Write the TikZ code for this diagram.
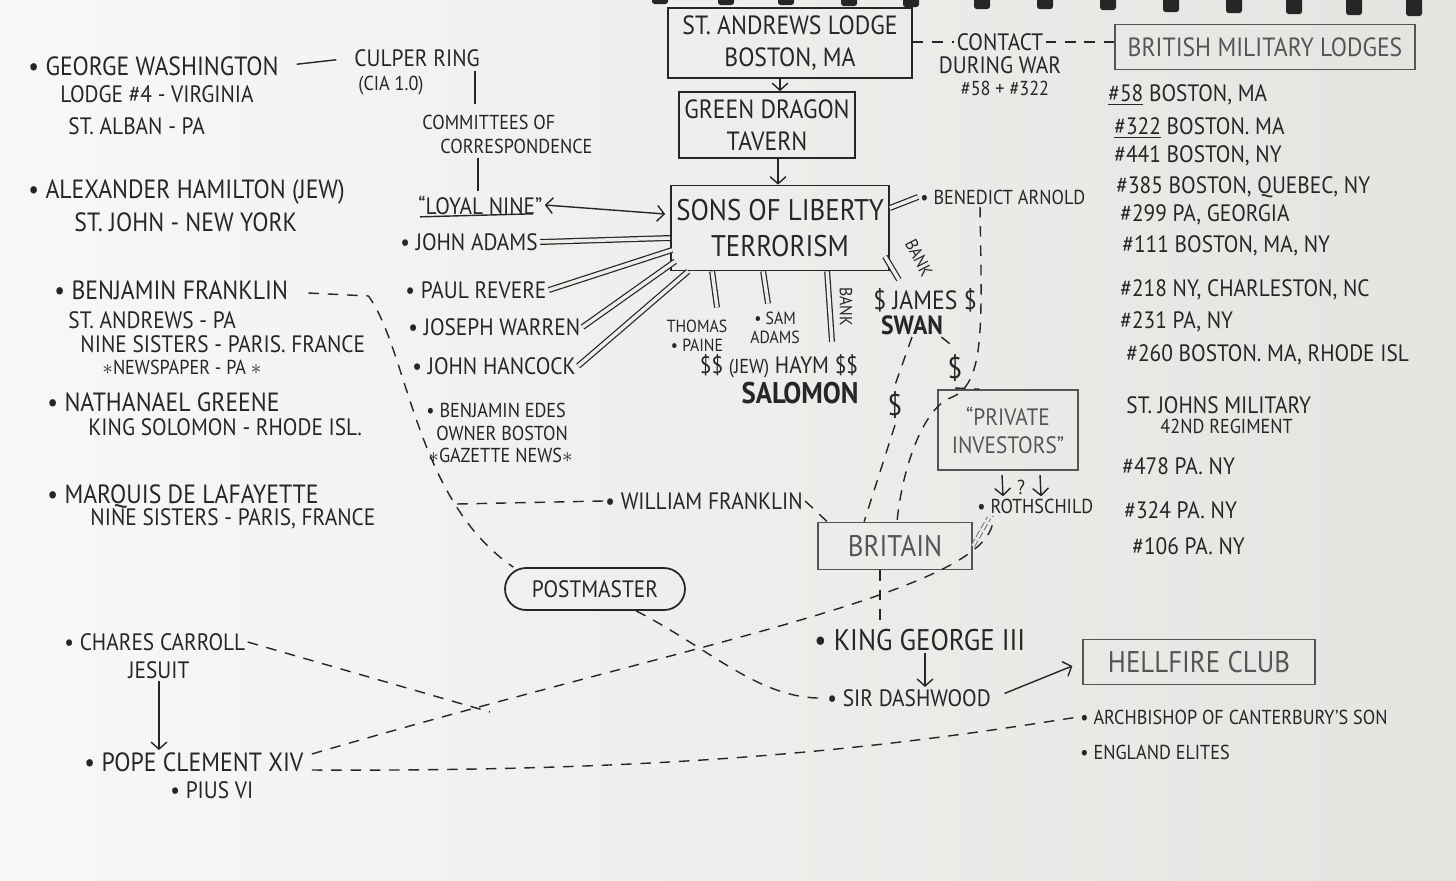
\documentclass[tikz,border=0pt]{standalone}
\usepackage{fontspec}
\setmainfont{PT Sans}[FakeStretch=0.9]
\usetikzlibrary{arrows.meta,positioning,calc}

\definecolor{paper}{HTML}{EEEDEA}
\definecolor{ink}{HTML}{262626}
\definecolor{pencil}{HTML}{555555}

\newcommand{\fhuge}{\fontsize{17}{20}\selectfont}
\newcommand{\flarge}{\fontsize{15}{18}\selectfont}
\newcommand{\fmain}{\fontsize{13.5}{16}\selectfont}
\newcommand{\fsmall}{\fontsize{11.5}{13}\selectfont}
\newcommand{\ftiny}{\fontsize{10}{11}\selectfont}

\begin{document}
\begin{tikzpicture}[
  x=0.02cm, y=-0.02cm, color=ink, line width=0.8pt, font=\fmain,
  >={Straight Barb[length=4pt,width=9pt]},
  txt/.style={anchor=west, inner sep=1pt},
  boxn/.style={draw, line width=1pt, align=center, inner sep=3pt},
  pbox/.style={boxn, draw=pencil, text=pencil},
  dsh/.style={dash pattern=on 6pt off 5pt},
  spoke/.style={double=paper, double distance=2pt, line width=0.7pt}
]
% paper and rings
\useasboundingbox (0,0) rectangle (1456,880);
\shade[left color=paper!40!white, right color=paper!96!black] (0,0) rectangle (1456,880);
\foreach \x/\h in {660/4,726/5,786/5,849/6,911/7,982/9,1045/9,1108/10,1171/12,1234/13,1294/14,1354/15,1414/16}
  \fill[black!85, rounded corners=1.5pt] (\x-8,-3) rectangle (\x+8,\h);

% left column
\node[txt, font=\flarge] (gw1) at (26,66) {• GEORGE WASHINGTON};
\node[txt] (gw2) at (58,94) {LODGE \#4 - VIRGINIA};
\node[txt] (gw3) at (66,126) {ST. ALBAN - PA};
\node[txt, font=\flarge] (ah1) at (26,192) {• ALEXANDER HAMILTON (JEW)};
\node[txt, font=\flarge] (ah2) at (72,222) {ST. JOHN - NEW YORK};
\node[txt, font=\flarge] (bf1) at (52,290) {• BENJAMIN FRANKLIN};
\node[txt] (bf2) at (66,320) {ST. ANDREWS - PA};
\node[txt] (bf3) at (78,344) {NINE SISTERS - PARIS. FRANCE};
\node[txt, font=\fsmall] (bf4) at (100,367) {$\ast$NEWSPAPER - PA $\ast$};
\node[txt, font=\flarge] (ng1) at (45,402) {• NATHANAEL GREENE};
\node[txt] (ng2) at (86,427) {KING SOLOMON - RHODE ISL.};
\node[txt, font=\flarge] (ml1) at (45,497) {• MARQUIS DE LAFAYETTE};
\node[txt] (ml2) at (88,519) {NINE SISTERS - PARIS, FRANCE};
\node[txt] (cc1) at (62,642) {• CHARES CARROLL};
\node[txt] (cc2) at (126,670) {JESUIT};
\node[txt, font=\flarge] (pc1) at (82,762) {• POPE CLEMENT XIV};
\node[txt] (pc2) at (168,790) {• PIUS VI};

% culper ring and committees
\node[txt] (culper) at (352,58) {CULPER RING};
\node[txt, font=\fsmall] (cia) at (356,86) {(CIA 1.0)};
\node[txt, font=\fsmall] (cm1) at (420,122) {COMMITTEES OF};
\node[txt, font=\fsmall] (cm2) at (438,146) {CORRESPONDENCE};
\node[txt] (loyal) at (416,205) {``LOYAL NINE''};

% members
\node[txt] (ja) at (398,242) {• JOHN ADAMS};
\node[txt] (pr) at (403,290) {• PAUL REVERE};
\node[txt] (jw) at (406,327) {• JOSEPH WARREN};
\node[txt] (jh) at (410,366) {• JOHN HANCOCK};
\node[txt, font=\fsmall] (be1) at (424,410) {• BENJAMIN EDES};
\node[txt, font=\fsmall] (be2) at (434,433) {OWNER BOSTON};
\node[txt, font=\fsmall] (be3) at (426,455) {$\ast$GAZETTE NEWS$\ast$};

% boxes in the middle
\node[boxn, minimum width=4.88cm, minimum height=1.4cm, font=\flarge] (sa) at (790,43) {ST. ANDREWS LODGE\\BOSTON, MA};
\node[boxn, minimum width=3.5cm, minimum height=1.32cm, font=\flarge] (gd) at (767,125) {GREEN DRAGON\\TAVERN};
\node[boxn, minimum width=4.2cm, minimum height=1.7cm, font=\fhuge] (sl) at (780,228) {SONS OF LIBERTY\\TERRORISM};

\node[align=center, font=\ftiny, inner sep=1pt] (tp) at (697,336) {THOMAS\\• PAINE};
\node[align=center, font=\ftiny, inner sep=1pt] (sam) at (775,328) {• SAM\\ADAMS};
\node[inner sep=1pt] (hs) at (779,366) {\$\$ {\fsmall(JEW)} HAYM \$\$};
\node[inner sep=1pt, font=\fhuge\bfseries] (sal) at (800,393) {SALOMON};
\node[inner sep=1pt, font=\flarge] (js1) at (925,300) {\$ JAMES \$};
\node[inner sep=1pt, font=\flarge\bfseries] (js2) at (912,325) {SWAN};
\node[txt, font=\fsmall] (ba) at (918,197) {• BENEDICT ARNOLD};
\node[font=\fhuge] (d1) at (895,405) {\$};
\node[font=\fhuge] (d2) at (955,368) {\$};

% contact and british lodges
\node[inner sep=1pt] (ct1) at (1000,42) {CONTACT};
\node[inner sep=1pt] (ct2) at (1000,65) {DURING WAR};
\node[inner sep=1pt, font=\fsmall] (ct3) at (1005,88) {\#58 + \#322};
\node[pbox, minimum width=6cm, minimum height=0.9cm, font=\flarge] (bml) at (1265,47) {BRITISH MILITARY LODGES};

\node[txt] (l58) at (1106,95) {\underline{\#58} BOSTON, MA};
\node[txt] (l322) at (1112,128) {\underline{\#322} BOSTON. MA};
\node[txt] (l441) at (1112,156) {\#441 BOSTON, NY};
\node[txt] (l385) at (1114,187) {\#385 BOSTON, QUEBEC, NY};
\node[txt] (l299) at (1118,215) {\#299 PA, GEORGIA};
\node[txt] (l111) at (1120,246) {\#111 BOSTON, MA, NY};
\node[txt] (l218) at (1118,290) {\#218 NY, CHARLESTON, NC};
\node[txt] (l231) at (1118,322) {\#231 PA, NY};
\node[txt] (l260) at (1124,355) {\#260 BOSTON. MA, RHODE ISL};
\node[txt] (sj1) at (1124,405) {ST. JOHNS MILITARY};
\node[txt, font=\fsmall] (sj2) at (1158,426) {42ND REGIMENT};
\node[txt] (l478) at (1120,466) {\#478 PA. NY};
\node[txt] (l324) at (1122,510) {\#324 PA. NY};
\node[txt] (l106) at (1130,546) {\#106 PA. NY};

% lower middle
\node[pbox, minimum width=2.8cm, minimum height=1.6cm] (pi) at (1008,430) {``PRIVATE\\INVESTORS''};
\node[txt, font=\fsmall] (ro) at (975,506) {• ROTHSCHILD};
\node[font=\fsmall, inner sep=1pt] (q) at (1021,487) {?};
\node[pbox, minimum width=3.08cm, minimum height=0.94cm, font=\fhuge] (br) at (895,546) {BRITAIN};
\node[txt] (wf) at (603,501) {• WILLIAM FRANKLIN};
\node[draw, line width=1pt, rounded corners=0.42cm, minimum width=3.6cm, minimum height=0.84cm] (pm) at (595,589) {POSTMASTER};
\node[txt, font=\fhuge] (kg) at (812,640) {• KING GEORGE III};
\node[txt] (sd) at (825,698) {• SIR DASHWOOD};
\node[pbox, minimum width=4.64cm, minimum height=0.9cm, font=\fhuge] (hc) at (1199,662) {HELLFIRE CLUB};
\node[txt, font=\fsmall] (ab) at (1078,717) {• ARCHBISHOP OF CANTERBURY'S SON};
\node[txt, font=\fsmall] (ee) at (1078,752) {• ENGLAND ELITES};
\coordinate (ccx) at (490,712);
\coordinate (brs) at ($(br.south)+(-15,0)$);

% solid links
\draw[shorten <=9pt, shorten >=9pt] (gw1.east) -- (culper.west);
\draw ($(culper.south west)+(123,2)$) -- ($(cm1.north west)+(55,-8)$);
\draw ($(cm2.south west)+(40,2)$) -- ($(loyal.north west)+(62,-2)$);
\draw ($(loyal.south west)+(4,0)$) -- ($(loyal.south east)+(-12,-3)$);
\draw[<->] (loyal.east) -- ($(sl.west)+(-5,-14)$);
\draw[->] ($(sa.south)+(-10,0)$) -- ($(gd.north)+(13,0)$);
\draw[->] ($(gd.south)+(11,0)$) -- ($(sl.north)+(-2,0)$);
\draw[->] (cc2.south) -- (cc2.south |- pc1.north);
\draw[->] ($(kg.south west)+(113,0)$) -- ($(kg.south west |- sd.north)+(113,0)$);
\draw[->, shorten <=7pt, shorten >=6pt] (sd.east) -- (hc.west);
\draw[->] ($(pi.south)+(-6,4)$) -- ($(ro.north west)+(28,0)$);
\draw[->] ($(pi.south)+(32,4)$) -- ($(ro.north west)+(66,0)$);

% spokes of the sons of liberty
\draw[spoke] ($(sl.west)+(0,10)$) -- (ja.east);
\draw[spoke] ($(sl.west)+(2,22)$) -- (pr.east);
\draw[spoke] ($(sl.south west)+(5,-10)$) -- (jw.east);
\draw[spoke] ($(sl.south west)+(18,0)$) -- (jh.east);
\draw[spoke] ($(sl.south west)+(42,0)$) -- ($(tp.north)+(20,-10)$);
\draw[spoke] ($(sl.south west)+(93,0)$) -- ($(sam.north)+(-7,-6)$);
\draw[spoke] ($(sl.south west)+(157,0)$) -- ($(hs.north)+(53,-10)$) node[midway, right=2pt, rotate=-90, anchor=south, font=\ftiny] {BANK};
\draw[spoke] ($(sl.south east)+(-5,-15)$) -- ($(js1.north west)+(28,-6)$);
\node[font=\ftiny, rotate=-63] (bank) at (919,258) {BANK};
\draw[spoke] ($(sl.east)+(0,-20)$) -- (ba.west);

% dashed links
\draw[dsh] (sa.east |- ct1) -- (ct1.west);
\draw[dsh] (ct1.east) -- (bml.west |- ct1.east);
\draw[dsh] ($(bf1.east)+(18,3)$) -- ++(60,3) .. controls (408,350) and (415,500) .. (pm.165) coordinate[pos=0.75] (bfc);
\draw[dsh] (wf.west) -- (bfc);
\draw[dsh] (wf.east) -- ($(br.north west)+(10,0)$);
\draw[dsh] (js2.south) -- (d1.north);
\draw[dsh] (d1.south) -- ($(br.north west)+(47,0)$);
\draw[dsh] ($(js2.south east)+(-4,0)$) -- (d2.north);
\draw[dsh] (d2.south) -- (pi.125);
\draw[dsh] ($(ba.south west)+(62,0)$) .. controls (982,330) and (985,385) .. (950,398) .. controls (922,410) and (902,470) .. ($(br.north)+(2,0)$);
\draw[pencil!80, double=paper, double distance=1.4pt, line width=0.6pt, dash pattern=on 4pt off 1.5pt] (br.east) -- ($(ro.south west)+(14,2)$);
\draw[dsh] (brs) -- (brs |- kg.north);
\draw[dsh] (pm.-28) .. controls (712,650) and (760,700) .. (sd.west);
\draw[dsh] (cc1.east) -- (ccx);
\draw[dsh] ($(pc1.east)+(6,-8)$) .. controls (700,640) and (1000,590) .. ($(ro.south west)+(18,0)$);
\draw[dsh] ($(pc1.east)+(6,8)$) .. controls (700,772) and (900,745) .. (ab.west);
\end{tikzpicture}
\end{document}
